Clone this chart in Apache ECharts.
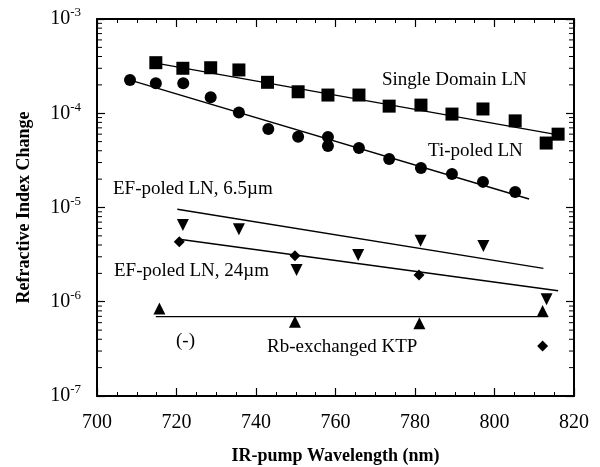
<!DOCTYPE html>
<html>
<head>
<meta charset="utf-8">
<script src="https://cdn.jsdelivr.net/npm/echarts@6/dist/echarts.min.js"></script>
<style>
  html, body { margin: 0; padding: 0; background: #fff; }
  #chart { width: 600px; height: 467px; }
</style>
</head>
<body>
<div id="chart"></div>
<script>
// Wavelength axis (nm) and log axis limits
const xMin = 700, xMax = 820, xStep = 20;
const yMin = 1e-7, yMax = 1e-3;

// Single domain LN (squares)
const sdX = [714.8, 721.6, 728.6, 735.7, 742.9, 750.6, 758.1, 765.9, 773.5, 781.5, 789.3, 797.1, 805.2, 813.0, 816.0];
const sdY = [3.44e-4, 3.0e-4, 3.04e-4, 2.88e-4, 2.13e-4, 1.69e-4, 1.56e-4, 1.56e-4, 1.19e-4, 1.22e-4, 9.8e-5, 1.11e-4, 8.3e-5, 4.83e-5, 6.0e-5];
const sdFitX = [714.8, 816.0];
const sdFitY = [3.4e-4, 5.9e-5];

// Ti-poled LN (circles)
const tiX = [708.3, 714.8, 721.7, 728.6, 735.7, 743.1, 750.6, 758.1, 758.1, 765.9, 773.5, 781.5, 789.3, 797.1, 805.2];
const tiY = [2.25e-4, 2.08e-4, 2.08e-4, 1.48e-4, 1.02e-4, 6.8e-5, 5.64e-5, 5.6e-5, 4.5e-5, 4.28e-5, 3.27e-5, 2.62e-5, 2.27e-5, 1.87e-5, 1.46e-5];
const tiFitX = [707.5, 808.7];
const tiFitY = [2.3e-4, 1.23e-5];

// EF-poled LN, 6.5 µm (down triangles)
const ef65X = [721.6, 735.7, 750.2, 765.7, 781.4, 797.2, 813.1];
const ef65Y = [6.52e-6, 5.87e-6, 2.17e-6, 3.13e-6, 4.44e-6, 3.91e-6, 1.06e-6];
const ef65FitX = [720.2, 812.3];
const ef65FitY = [9.57e-6, 2.26e-6];

// EF-poled LN, 24 µm (diamonds)
const ef24X = [720.7, 749.8, 781.0, 812.1];
const ef24Y = [4.34e-6, 3.08e-6, 1.92e-6, 3.4e-7];
const ef24FitX = [720.7, 816.0];
const ef24FitY = [4.6e-6, 1.31e-6];

// Rb-exchanged KTP (up triangles)
const ktpX = [715.7, 749.8, 781.1, 812.1];
const ktpY = [8.5e-7, 6.14e-7, 5.9e-7, 8.0e-7];
const ktpFitX = [714.8, 813.5];
const ktpFitY = [6.95e-7, 6.95e-7];

const pairs = (xs, ys) => xs.map((x, i) => [x, ys[i]]);

const serif = '"Liberation Serif", "DejaVu Serif", serif';
const ink = '#000';

const chart = echarts.init(document.getElementById('chart'), null, { renderer: 'canvas' });

const xAxisBase = {
  type: 'value', min: xMin, max: xMax, interval: xStep,
  axisLine: { show: true, lineStyle: { color: ink, width: 2 } },
  axisTick: { show: true, inside: true, length: 8, lineStyle: { color: ink, width: 1.2 } },
  minorTick: { show: true, splitNumber: 4, length: 4, lineStyle: { color: ink, width: 1 } },
  splitLine: { show: false }
};
const yAxisBase = {
  type: 'log', logBase: 10, min: yMin, max: yMax,
  axisLine: { show: true, lineStyle: { color: ink, width: 2 } },
  axisTick: { show: true, inside: true, length: 8, lineStyle: { color: ink, width: 1.2 } },
  minorTick: { show: false },
  splitLine: { show: false }
};

const scatter = (name, data, symbol, size, rotate) => ({
  name, type: 'scatter', data, symbol, symbolSize: size, symbolRotate: rotate || 0,
  itemStyle: { color: ink, opacity: 1 }, z: 3
});
const fit = (data) => ({
  type: 'line', data, symbol: 'none', silent: true,
  lineStyle: { color: ink, width: 1.4 }, z: 2
});

const labelText = (text, x, y) => ({
  type: 'text', x: x, y: y,
  style: { text, fill: ink, font: '19px ' + serif, align: 'left', verticalAlign: 'middle' }
});

chart.setOption({
  animation: false,
  backgroundColor: '#fff',
  grid: { left: 97, right: 26, top: 19, bottom: 71, containLabel: false, outerBoundsMode: 'none' },
  xAxis: [
    Object.assign({}, xAxisBase, {
      position: 'bottom',
      axisLabel: { show: true, color: ink, fontFamily: serif, fontSize: 20, margin: 17 },
      name: 'IR-pump Wavelength (nm)', nameLocation: 'middle', nameGap: 51,
      nameTextStyle: { color: ink, fontFamily: serif, fontSize: 18, fontWeight: 'bold' }
    }),
    Object.assign({}, xAxisBase, { position: 'top', axisLabel: { show: false } })
  ],
  yAxis: [
    Object.assign({}, yAxisBase, {
      position: 'left',
      axisLabel: {
        show: true, margin: 16,
        formatter: v => '{b|10}{s|' + Math.round(Math.log10(v)) + '}',
        rich: {
          b: { color: ink, fontFamily: serif, fontSize: 20 },
          s: { color: ink, fontFamily: serif, fontSize: 13, verticalAlign: 'bottom', padding: [0, 0, 12, 0] }
        }
      },
      name: 'Refractive Index Change', nameLocation: 'middle', nameGap: 64, nameRotate: 90,
      nameTextStyle: { color: ink, fontFamily: serif, fontSize: 18, fontWeight: 'bold' }
    }),
    Object.assign({}, yAxisBase, { position: 'right', axisLabel: { show: false } })
  ],
  series: [
    fit(pairs(sdFitX, sdFitY)),
    fit(pairs(tiFitX, tiFitY)),
    fit(pairs(ef65FitX, ef65FitY)),
    fit(pairs(ef24FitX, ef24FitY)),
    fit(pairs(ktpFitX, ktpFitY)),
    scatter('Single Domain LN', pairs(sdX, sdY), 'rect', 13),
    scatter('Ti-poled LN', pairs(tiX, tiY), 'circle', 12),
    scatter('EF-poled LN, 6.5µm', pairs(ef65X, ef65Y), 'triangle', 12, 180),
    scatter('EF-poled LN, 24µm', pairs(ef24X, ef24Y), 'diamond', 11),
    scatter('Rb-exchanged KTP', pairs(ktpX, ktpY), 'triangle', 12)
  ]
});

// Curve names and log-axis minor ticks (2..9 × 10^n) on the left and right frame edges
const overlay = [
  labelText('Single Domain LN', 382, 80),
  labelText('Ti-poled LN', 428, 151),
  labelText('EF-poled LN, 6.5µm', 113, 189),
  labelText('EF-poled LN, 24µm', 114, 271),
  labelText('(-)', 176, 341),
  labelText('Rb-exchanged KTP', 267, 347)
];
for (let e = -7; e < -3; e++) {
  for (let m = 2; m <= 9; m++) {
    const v = m * Math.pow(10, e);
    const pl = chart.convertToPixel({ xAxisIndex: 0, yAxisIndex: 0 }, [xMin, v]);
    const pr = chart.convertToPixel({ xAxisIndex: 0, yAxisIndex: 0 }, [xMax, v]);
    overlay.push({
      type: 'line', silent: true,
      shape: { x1: pl[0], y1: pl[1], x2: pl[0] + 5, y2: pl[1] },
      style: { stroke: ink, lineWidth: 1 }
    });
    overlay.push({
      type: 'line', silent: true,
      shape: { x1: pr[0] - 5, y1: pr[1], x2: pr[0], y2: pr[1] },
      style: { stroke: ink, lineWidth: 1 }
    });
  }
}
chart.setOption({ graphic: overlay.map((g, i) => Object.assign({ id: 'ov' + i }, g)) });
</script>
</body>
</html>
